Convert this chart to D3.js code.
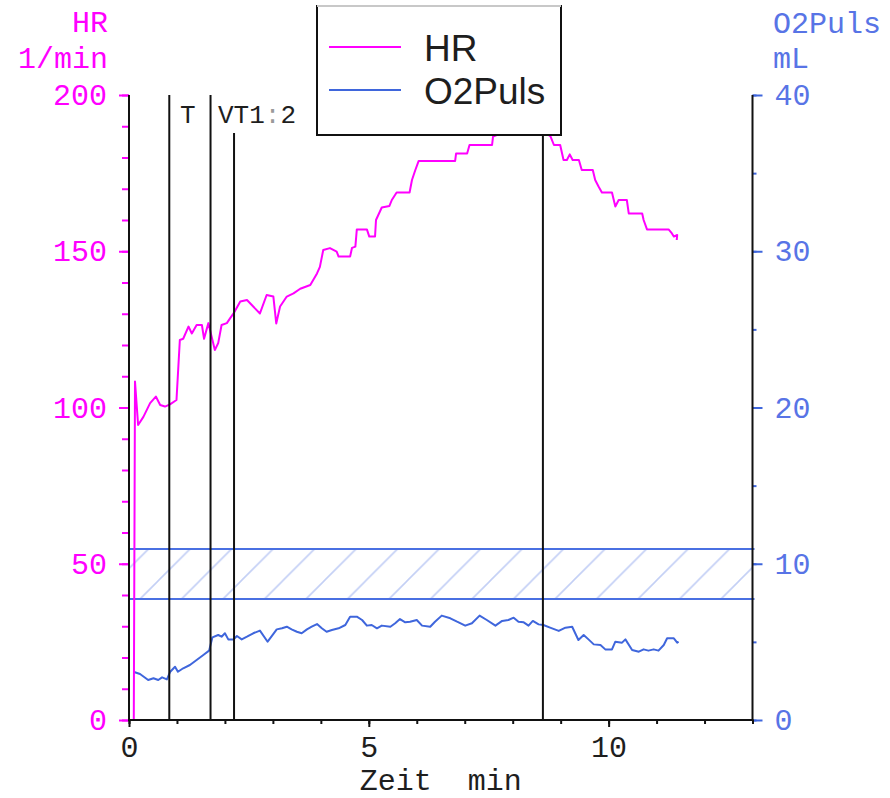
<!DOCTYPE html>
<html>
<head>
<meta charset="utf-8">
<script src="https://cdn.jsdelivr.net/npm/d3@7"></script>
<style>
  body { margin: 0; background: #fff; }
  svg { display: block; }
  text { font-family: "Liberation Mono", "Courier New", monospace; }
</style>
</head>
<body>
<svg id="chart" width="890" height="798"></svg>
<script>
// ---- data: heart rate (1/min) and O2 pulse (mL) over time (min) ----
const hrTime = [0.10, 0.125, 0.19, 0.30, 0.44, 0.56, 0.65, 0.75, 0.855, 0.99, 1.06, 1.13, 1.24, 1.31, 1.41, 1.52,
  1.565, 1.655, 1.79, 1.86, 1.93, 2.04, 2.11, 2.18, 2.32, 2.46, 2.59, 2.73, 2.87, 3.01, 3.07, 3.15, 3.29,
  3.43, 3.57, 3.78, 3.92, 3.98, 4.05, 4.19, 4.33, 4.37, 4.61, 4.65, 4.72, 4.75, 4.96, 5.01, 5.13, 5.15,
  5.27, 5.43, 5.48, 5.58, 5.85, 5.90, 5.97, 6.04, 6.80, 6.82, 7.05, 7.10, 7.57, 7.59, 7.80, 8.10, 8.50,
  8.79, 8.86, 8.99, 9.06, 9.13, 9.19, 9.25, 9.38, 9.44, 9.67, 9.72, 9.79, 9.86, 10.07, 10.14, 10.21,
  10.38, 10.42, 10.70, 10.73, 10.80, 11.25, 11.32, 11.36, 11.43, 11.42];
const hrValue = [0, 108.3, 94.4, 97, 101.4, 103.5, 100.8, 100.3, 101, 102.4, 121.6, 122, 125.9, 123.7, 126.4, 126.4,
  122, 127, 118.4, 120.6, 126.4, 127, 128.6, 130.1, 133.9, 134.4, 132.3, 130.1, 136, 135.5, 126.9, 132.3, 135.5,
  136.5, 138, 139.2, 142.9, 145, 150.4, 151, 149.9, 148.3, 148.3, 151.1, 151.5, 157, 157, 154.7, 154.7, 160,
  164, 164.5, 166.4, 168.8, 168.8, 172.8, 176, 178.9, 178.9, 181.3, 181.3, 184, 184, 186.7, 188, 190, 190,
  186.7, 184, 184, 179.2, 179.2, 181, 179.2, 179.2, 176, 176, 172.8, 170.7, 168.8, 168.8, 164.3, 166.4,
  166.4, 162.1, 162.1, 160, 157, 157, 155.7, 154.7, 155.2, 153.6];

const o2Time = [0.09, 0.23, 0.40, 0.51, 0.61, 0.69, 0.79, 0.86, 0.96, 1.02, 1.13, 1.27, 1.41, 1.55, 1.67, 1.74,
  1.86, 1.93, 2.00, 2.07, 2.18, 2.25, 2.35, 2.46, 2.59, 2.73, 2.89, 2.98, 3.08, 3.19, 3.29, 3.39, 3.50, 3.60,
  3.71, 3.81, 3.92, 4.02, 4.12, 4.23, 4.37, 4.51, 4.61, 4.75, 4.86, 4.96, 5.06, 5.17, 5.27, 5.45, 5.55, 5.65,
  5.76, 5.86, 6.00, 6.11, 6.28, 6.38, 6.52, 6.70, 6.84, 7.01, 7.15, 7.31, 7.46, 7.64, 7.78, 7.91, 8.02, 8.12,
  8.23, 8.33, 8.42, 8.54, 8.64, 8.78, 8.96, 9.10, 9.24, 9.37, 9.48, 9.58, 9.69, 9.83, 9.93, 10.07, 10.14,
  10.28, 10.35, 10.49, 10.63, 10.73, 10.83, 10.94, 11.04, 11.15, 11.22, 11.36, 11.43, 11.46];
const o2Value = [3.09, 2.94, 2.56, 2.67, 2.56, 2.73, 2.60, 3.09, 3.41, 3.09, 3.31, 3.52, 3.84, 4.16, 4.44, 5.29,
  5.44, 5.33, 5.55, 5.16, 5.16, 5.38, 5.16, 5.33, 5.55, 5.72, 5.01, 5.38, 5.80, 5.87, 5.97, 5.80, 5.65, 5.55,
  5.80, 5.97, 6.14, 5.87, 5.65, 5.76, 5.87, 6.08, 6.61, 6.61, 6.40, 6.04, 6.08, 5.87, 6.04, 5.97, 6.19, 6.46,
  6.25, 6.29, 6.40, 6.04, 5.97, 6.29, 6.68, 6.51, 6.29, 6.04, 6.19, 6.68, 6.40, 6.04, 6.34, 6.40, 6.55, 6.29,
  6.25, 6.04, 6.34, 6.12, 6.08, 5.91, 5.70, 5.91, 5.97, 5.12, 5.44, 5.16, 4.84, 4.80, 4.52, 4.52, 5.01,
  4.95, 5.16, 4.48, 4.37, 4.52, 4.44, 4.52, 4.44, 4.80, 5.23, 5.23, 4.95, 5.01];

// threshold markers (min)
const markerTimes = [0.84, 1.70, 2.19, 8.63];
// reference range for O2 pulse (mL)
const o2Band = [7.74, 10.94];

const hrTicks = [0, 50, 100, 150, 200];
const hrMinorTicks = d3.range(0, 201, 10);
const o2Ticks = [0, 10, 20, 30, 40];
const o2MinorTicks = d3.range(0, 41, 5);
const timeTicks = [0, 5, 10];
const timeMinorTicks = d3.range(0, 14, 1);

const PINK = "#ff00ff";
const BLUE = "#3f66dc";
const BLUE_TEXT = "#5874e6";
const DARK = "#1e1e1e";

// ---- layout ----
const plotLeft = 129, plotRight = 752.5, plotTop = 95, plotBottom = 720;
const x = d3.scaleLinear().domain([0, 13]).range([plotLeft, plotRight]);
const yHR = d3.scaleLinear().domain([0, 200]).range([plotBottom, plotTop]);
const yO2 = d3.scaleLinear().domain([0, 40]).range([plotBottom, plotTop]);

const svg = d3.select("#chart");

// hatched reference band
const defs = svg.append("defs");
const hs = 41.5;
const pat = defs.append("pattern")
  .attr("id", "hatch")
  .attr("patternUnits", "userSpaceOnUse")
  .attr("x", 33.5).attr("y", 0)
  .attr("width", hs).attr("height", hs);
pat.append("path")
  .attr("d", `M0,${hs} L${hs},0 M${-hs / 2},${hs / 2} L${hs / 2},${-hs / 2} M${hs / 2},${hs * 1.5} L${hs * 1.5},${hs / 2}`)
  .attr("stroke", "#c3cff5").attr("stroke-width", 1.6).attr("fill", "none");

svg.append("rect")
  .attr("x", x(0)).attr("width", x(13) - x(0))
  .attr("y", yO2(o2Band[1])).attr("height", yO2(o2Band[0]) - yO2(o2Band[1]))
  .attr("fill", "url(#hatch)");
svg.selectAll("line.band").data(o2Band).join("line")
  .attr("class", "band")
  .attr("x1", x(0)).attr("x2", x(13) + 2)
  .attr("y1", d => yO2(d)).attr("y2", d => yO2(d))
  .attr("stroke", "#4a70e2").attr("stroke-width", 2);

// data lines
const o2Line = d3.line().x(d => x(d[0])).y(d => yO2(d[1]));
svg.append("path")
  .datum(d3.zip(o2Time, o2Value))
  .attr("d", o2Line)
  .attr("fill", "none").attr("stroke", BLUE).attr("stroke-width", 2)
  .attr("stroke-linejoin", "round");

const hrLine = d3.line().x(d => x(d[0])).y(d => yHR(d[1]));
svg.append("path")
  .datum(d3.zip(hrTime, hrValue))
  .attr("d", hrLine)
  .attr("fill", "none").attr("stroke", PINK).attr("stroke-width", 2)
  .attr("stroke-linejoin", "round");

// threshold marker lines
const markerTop = [plotTop, plotTop, 133, plotTop];
svg.selectAll("line.marker").data(markerTimes).join("line")
  .attr("class", "marker")
  .attr("x1", d => x(d)).attr("x2", d => x(d))
  .attr("y1", (d, i) => markerTop[i]).attr("y2", plotBottom)
  .attr("stroke", "#111").attr("stroke-width", 2);

svg.append("text").attr("x", 180).attr("y", 123)
  .attr("font-size", 26).attr("fill", DARK).text("T");
const vt = svg.append("text").attr("x", 218).attr("y", 123)
  .attr("font-size", 26).attr("fill", DARK);
vt.append("tspan").text("VT1");
vt.append("tspan").attr("fill", "#9a9a9a").text(":");
vt.append("tspan").text("2");

// ---- axes ----
function styleAxis(g, color, fontSize) {
  g.select(".domain").remove();
  g.selectAll(".tick line").attr("stroke", color).attr("stroke-width", 2);
  g.selectAll(".tick text")
    .attr("fill", color)
    .attr("font-family", "Liberation Mono, Courier New, monospace")
    .attr("font-size", fontSize);
}

// left (HR)
svg.append("g").attr("transform", `translate(${plotLeft},0)`)
  .call(d3.axisLeft(yHR).tickValues(hrMinorTicks).tickSize(7).tickFormat(""))
  .call(g => styleAxis(g, PINK, 30));
svg.append("g").attr("transform", `translate(${plotLeft},0)`)
  .call(d3.axisLeft(yHR).tickValues(hrTicks).tickSize(10).tickPadding(12).tickFormat(d3.format("d")))
  .call(g => styleAxis(g, PINK, 30));

// right (O2 pulse)
svg.append("g").attr("transform", `translate(${plotRight},0)`)
  .call(d3.axisRight(yO2).tickValues(o2MinorTicks).tickSize(4).tickFormat(""))
  .call(g => styleAxis(g, BLUE, 30));
svg.append("g").attr("transform", `translate(${plotRight},0)`)
  .call(d3.axisRight(yO2).tickValues(o2Ticks).tickSize(10).tickPadding(12).tickFormat(d3.format("d")))
  .call(g => styleAxis(g, BLUE, 30))
  .call(g => g.selectAll(".tick text").attr("fill", BLUE_TEXT));

// bottom (time)
svg.append("g").attr("transform", `translate(0,${plotBottom})`)
  .call(d3.axisBottom(x).tickValues(timeMinorTicks).tickSize(4).tickFormat(""))
  .call(g => styleAxis(g, "#111", 30));
svg.append("g").attr("transform", `translate(0,${plotBottom})`)
  .call(d3.axisBottom(x).tickValues(timeTicks).tickSize(7).tickPadding(9).tickFormat(d3.format("d")))
  .call(g => styleAxis(g, "#111", 30))
  .call(g => g.selectAll(".tick text").attr("fill", DARK));

// axis lines
svg.append("line").attr("x1", plotLeft).attr("x2", plotLeft).attr("y1", plotTop).attr("y2", plotBottom + 1)
  .attr("stroke", "#111").attr("stroke-width", 2);
svg.append("line").attr("x1", plotRight).attr("x2", plotRight).attr("y1", plotTop).attr("y2", plotBottom + 1)
  .attr("stroke", "#111").attr("stroke-width", 2);
svg.append("line").attr("x1", plotLeft - 1).attr("x2", plotRight + 1).attr("y1", plotBottom).attr("y2", plotBottom)
  .attr("stroke", "#111").attr("stroke-width", 2);

// axis titles
svg.append("text").attr("x", 108).attr("y", 32).attr("text-anchor", "end")
  .attr("font-size", 30).attr("fill", PINK).text("HR");
svg.append("text").attr("x", 108).attr("y", 68).attr("text-anchor", "end")
  .attr("font-size", 30).attr("fill", PINK).text("1/min");
svg.append("text").attr("x", 773).attr("y", 33)
  .attr("font-size", 30).attr("fill", BLUE_TEXT).text("O2Puls");
svg.append("text").attr("x", 773).attr("y", 68)
  .attr("font-size", 30).attr("fill", BLUE_TEXT).text("mL");
svg.append("text").attr("x", (plotLeft + plotRight) / 2).attr("y", 790).attr("text-anchor", "middle")
  .attr("font-size", 30).attr("fill", DARK).style("white-space", "pre").text("Zeit  min");

// ---- legend ----
const lg = svg.append("g");
lg.append("rect").attr("x", 317).attr("y", 6).attr("width", 244).attr("height", 129)
  .attr("fill", "#fff").attr("stroke", "#111").attr("stroke-width", 2);
lg.append("line").attr("x1", 317).attr("x2", 561).attr("y1", 6).attr("y2", 6)
  .attr("stroke", "#c8c8c8").attr("stroke-width", 2);
const legendItems = [
  { name: "HR", color: PINK, y: 47 },
  { name: "O2Puls", color: BLUE, y: 90 }
];
legendItems.forEach(it => {
  lg.append("line").attr("x1", 329).attr("x2", 401).attr("y1", it.y).attr("y2", it.y)
    .attr("stroke", it.color).attr("stroke-width", 2);
  lg.append("text").attr("x", 424).attr("y", it.y + 14)
    .style("font-family", "'Liberation Sans', Arial, sans-serif")
    .attr("font-size", 37).attr("fill", DARK).text(it.name);
});
</script>
</body>
</html>
